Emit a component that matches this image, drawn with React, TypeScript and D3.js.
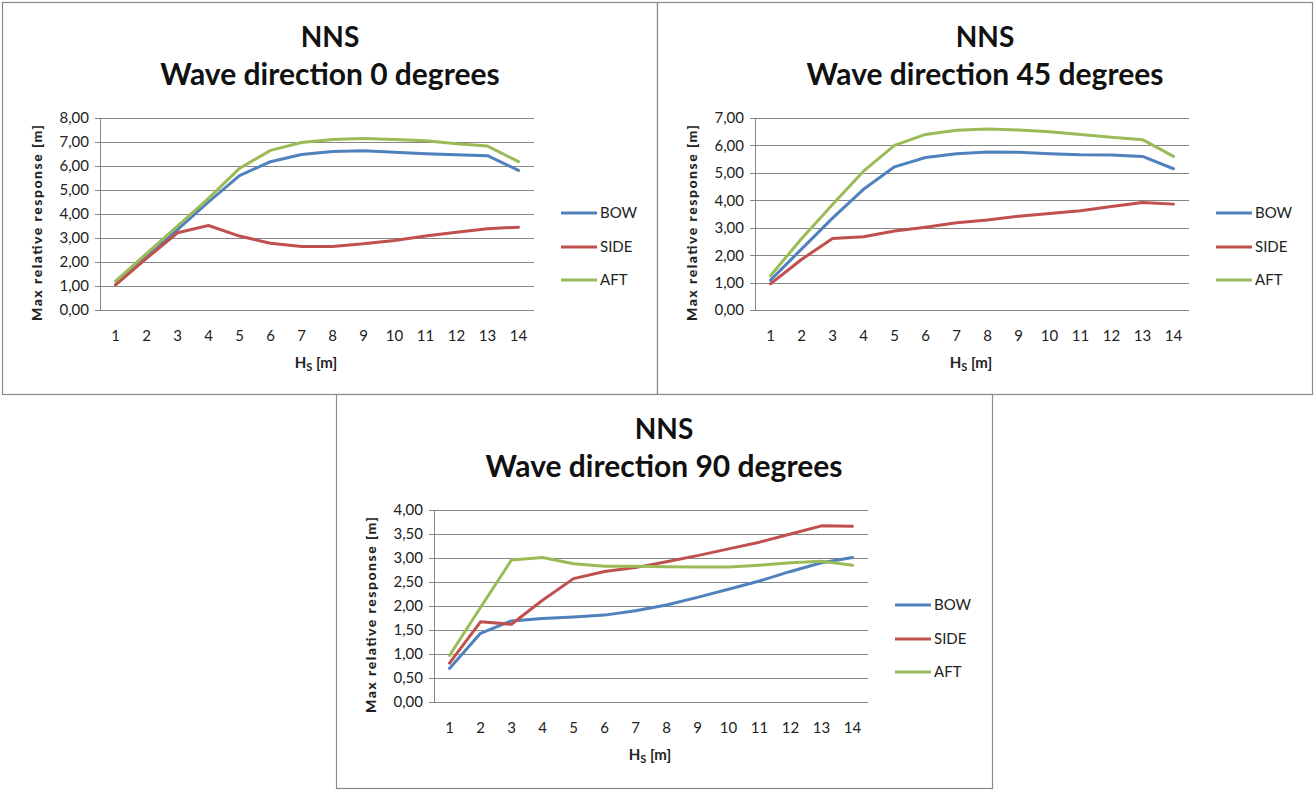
import React from "react";
import * as d3 from "d3";

// Significant wave height categories, Hs [m]
const HS = [1, 2, 3, 4, 5, 6, 7, 8, 9, 10, 11, 12, 13, 14];

// Wave direction 0 degrees
const BOW_0 = [1.05, 2.2, 3.35, 4.5, 5.6, 6.18, 6.48, 6.6, 6.64, 6.57, 6.51, 6.47, 6.43, 5.82];
const SIDE_0 = [1.05, 2.15, 3.22, 3.52, 3.08, 2.78, 2.65, 2.65, 2.76, 2.9, 3.08, 3.24, 3.39, 3.45];
const AFT_0 = [1.2, 2.35, 3.5, 4.65, 5.9, 6.65, 6.98, 7.1, 7.15, 7.1, 7.05, 6.93, 6.83, 6.18];
const Y_TICKS_0 = [0, 1, 2, 3, 4, 5, 6, 7, 8];

// Wave direction 45 degrees
const BOW_45 = [1.09, 2.22, 3.35, 4.4, 5.22, 5.56, 5.7, 5.76, 5.75, 5.7, 5.66, 5.65, 5.6, 5.15];
const SIDE_45 = [0.95, 1.84, 2.61, 2.67, 2.88, 3.02, 3.18, 3.28, 3.42, 3.52, 3.62, 3.77, 3.92, 3.86];
const AFT_45 = [1.25, 2.6, 3.85, 5.06, 6.0, 6.4, 6.55, 6.6, 6.56, 6.5, 6.4, 6.3, 6.21, 5.6];
const Y_TICKS_45 = [0, 1, 2, 3, 4, 5, 6, 7];

// Wave direction 90 degrees
const BOW_90 = [0.7, 1.43, 1.69, 1.74, 1.77, 1.81, 1.9, 2.02, 2.18, 2.35, 2.52, 2.72, 2.9, 3.01];
const SIDE_90 = [0.81, 1.67, 1.62, 2.12, 2.57, 2.72, 2.8, 2.92, 3.05, 3.19, 3.33, 3.5, 3.67, 3.66];
const AFT_90 = [0.97, 1.97, 2.96, 3.01, 2.88, 2.83, 2.83, 2.82, 2.81, 2.81, 2.85, 2.9, 2.93, 2.85];
const Y_TICKS_90 = [0, 0.5, 1, 1.5, 2, 2.5, 3, 3.5, 4];

const SERIES_NAMES = ["BOW", "SIDE", "AFT"];
const SERIES_COLORS = ["#4F81BD", "#C0504D", "#9BBB59"];

const FONT = "Lato, 'Open Sans', sans-serif";
const GRID = "#868686";

const locale = d3.formatLocale({
  decimal: ",",
  thousands: ".",
  grouping: [3],
  currency: ["", " €"],
});
const fmt = locale.format(".2f");

type PanelProps = {
  x0: number;
  y0: number;
  w: number;
  h: number;
  direction: string;
  yTicks: number[];
  series: number[][];
};

function Panel({ x0, y0, w, h, direction, yTicks, series }: PanelProps) {
  const left = 98;
  const right = 532;
  const top = 116;
  const bottom = 308;

  const x = d3
    .scaleBand<number>()
    .domain(HS)
    .range([left, right])
    .paddingInner(0)
    .paddingOuter(0);
  const y = d3
    .scaleLinear()
    .domain([yTicks[0], yTicks[yTicks.length - 1]])
    .range([bottom, top]);

  const line = d3
    .line<number>()
    .x((_, i) => (x(HS[i]) as number) + x.bandwidth() / 2)
    .y((d) => y(d));

  const legendY = [211, 245, 278];

  return (
    <g transform={`translate(${x0},${y0})`}>
      <rect x={0.5} y={0.5} width={w - 1} height={h - 1} fill="#fff" stroke="#8a8a8a" strokeWidth={1.2} />

      {/* title */}
      <text x={328} y={45} textAnchor="middle" fontFamily={FONT} fontWeight="bold" fontSize={28} fill="#111">
        NNS
      </text>
      <text x={328} y={83} textAnchor="middle" fontFamily={FONT} fontWeight="bold" fontSize={30} fill="#111">
        {`Wave direction ${direction} degrees`}
      </text>

      {/* gridlines and y tick labels */}
      {yTicks.map((t) => (
        <g key={t}>
          <line x1={left - 5} x2={right} y1={Math.round(y(t)) + 0.5} y2={Math.round(y(t)) + 0.5} stroke={GRID} strokeWidth={1} />
          <text
            x={left - 11}
            y={y(t)}
            dy="0.36em"
            textAnchor="end"
            fontFamily={FONT}
            fontSize={15}
            fill="#222"
          >
            {fmt(t)}
          </text>
        </g>
      ))}
      <line x1={left + 0.5} x2={left + 0.5} y1={top} y2={bottom} stroke={GRID} strokeWidth={1} />

      {/* x tick labels */}
      {HS.map((c) => (
        <text
          key={c}
          x={(x(c) as number) + x.bandwidth() / 2}
          y={bottom + 31}
          textAnchor="middle"
          fontFamily={FONT}
          fontSize={15}
          fill="#222"
        >
          {c}
        </text>
      ))}

      {/* axis titles */}
      <text x={314} y={366} textAnchor="middle" fontFamily={FONT} fontWeight="bold" fontSize={15} fill="#222">
        H<tspan fontSize={11} dy={3}>S</tspan>
        <tspan dy={-3}> [m]</tspan>
      </text>
      <text
        transform={`translate(40,221) rotate(-90)`}
        textAnchor="middle"
        fontFamily={FONT}
        fontWeight="900"
        fontSize={14}
        fill="#222"
        textLength={196}
        lengthAdjust="spacing"
      >
        Max relative response [m]
      </text>

      {/* series lines */}
      {series.map((s, i) => (
        <path
          key={SERIES_NAMES[i]}
          d={line(s) || ""}
          fill="none"
          stroke={SERIES_COLORS[i]}
          strokeWidth={3}
          strokeLinejoin="round"
          strokeLinecap="round"
        />
      ))}

      {/* legend */}
      {SERIES_NAMES.map((n, i) => (
        <g key={n}>
          <line x1={559} x2={595} y1={legendY[i]} y2={legendY[i]} stroke={SERIES_COLORS[i]} strokeWidth={3} />
          <text x={598} y={legendY[i]} dy="0.36em" fontFamily={FONT} fontSize={15} fill="#222">
            {n}
          </text>
        </g>
      ))}
    </g>
  );
}

export default function App() {
  return (
    <div style={{ position: "absolute", left: 0, top: 0 }}>
      <svg width={1314} height={790} style={{ display: "block", background: "#fff" }}>
        <Panel x0={2} y0={2} w={656} h={393} direction="0" yTicks={Y_TICKS_0} series={[BOW_0, SIDE_0, AFT_0]} />
        <Panel x0={657} y0={2} w={656} h={393} direction="45" yTicks={Y_TICKS_45} series={[BOW_45, SIDE_45, AFT_45]} />
        <Panel x0={336} y0={394} w={657} h={395} direction="90" yTicks={Y_TICKS_90} series={[BOW_90, SIDE_90, AFT_90]} />
      </svg>
    </div>
  );
}
